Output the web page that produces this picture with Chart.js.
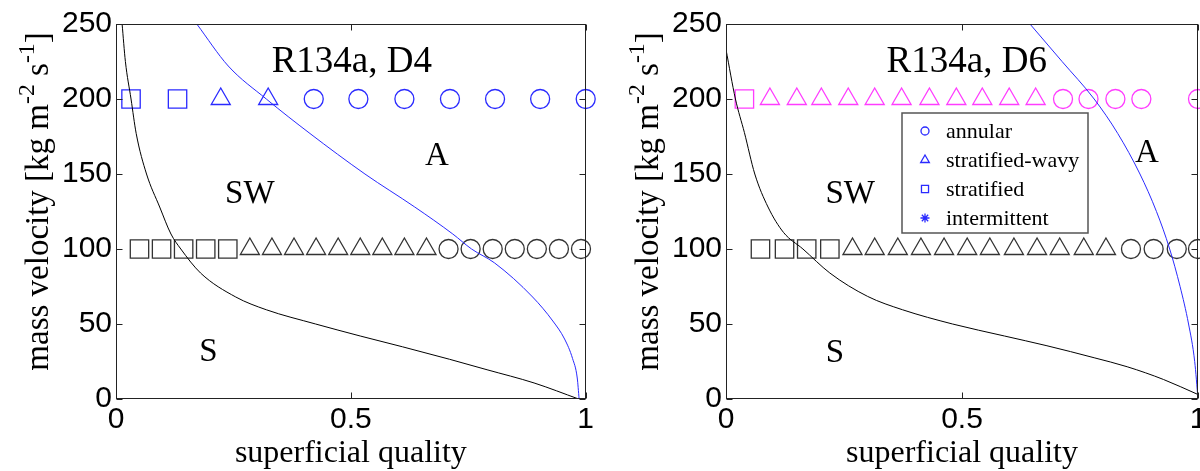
<!DOCTYPE html>
<html>
<head>
<meta charset="utf-8">
<script src="https://cdn.jsdelivr.net/npm/chart.js@4.4.1/dist/chart.umd.min.js"></script>
<style>
  html, body { margin: 0; padding: 0; background: #fff; width: 1200px; height: 471px; overflow: hidden; position: relative; }
  canvas { position: absolute; top: 0; }
  #d4 { left: 0; }
  #d6 { left: 600px; }
</style>
</head>
<body>
<canvas id="d4" width="600" height="471"></canvas>
<canvas id="d6" width="620" height="471"></canvas>
<script>
// axis ticks
const xTicks = [0, 0.5, 1];
const yTicks = [0, 50, 100, 150, 200, 250];
const rowLevels = [200, 100]; // mass velocity of the two test rows

// R134a, D4 - observed patterns
const d4HighSquare = [0.032, 0.131];
const d4HighTriangle = [0.223, 0.324];
const d4HighCircle = [0.421, 0.516, 0.614, 0.711, 0.807, 0.903, 1.0];
const d4LowSquare = [0.05, 0.097, 0.144, 0.191, 0.238];
const d4LowTriangle = [0.285, 0.332, 0.379, 0.426, 0.473, 0.52, 0.567, 0.614, 0.661];
const d4LowCircle = [0.708, 0.755, 0.802, 0.849, 0.896, 0.943, 0.99];

// R134a, D4 - transition curves
const d4StratX = [0.013, 0.02, 0.032, 0.043, 0.065, 0.093, 0.117, 0.138, 0.18, 0.255, 0.32, 0.425, 0.52, 0.61, 0.71, 0.79, 0.89, 0.985];
const d4StratY = [250, 225, 200, 177, 150, 128, 110, 100, 84, 68, 59.5, 50, 42, 34.8, 26.5, 19.5, 10.7, 0];
const d4AnnX = [0.172, 0.239, 0.32, 0.413, 0.53, 0.636, 0.717, 0.757, 0.806, 0.887, 0.93, 0.955, 0.972, 0.982, 0.986];
const d4AnnY = [250, 222, 200, 177, 150, 128, 110, 100, 90.7, 68, 52, 40, 27, 14, 0];

// R134a, D6 - observed patterns
const d6HighSquare = [0.039];
const d6HighTriangle = [0.093, 0.15, 0.202, 0.259, 0.315, 0.372, 0.431, 0.488, 0.543, 0.6, 0.656];
const d6HighCircle = [0.714, 0.768, 0.825, 0.88, 1.0];
const d6LowSquare = [0.073, 0.124, 0.171, 0.22];
const d6LowTriangle = [0.268, 0.315, 0.364, 0.413, 0.462, 0.511, 0.559, 0.61, 0.659, 0.707, 0.758, 0.805];
const d6LowCircle = [0.858, 0.906, 0.955, 1.0];

// R134a, D6 - transition curves
const d6StratX = [0.0, 0.02, 0.039, 0.061, 0.089, 0.122, 0.163, 0.22, 0.30, 0.374, 0.48, 0.59, 0.68, 0.78, 0.85, 0.927, 1.0];
const d6StratY = [233, 200, 177.6, 150, 128, 111, 100, 84, 68.4, 59.5, 50, 42, 35.5, 27.5, 21.5, 13, 3];
const d6AnnX = [0.644, 0.712, 0.78, 0.83, 0.877, 0.912, 0.94, 0.962, 0.98, 0.993, 1.0];
const d6AnnY = [250, 225, 200, 177, 150, 125, 100, 75, 50, 25, 0];

const regionNames = ['SW', 'A', 'S'];
const legendLabels = ['annular', 'stratified-wavy', 'stratified', 'intermittent'];
const legendStyles = ['circle', 'triangle', 'rect', 'star'];

const BLUE = '#2a2aff';
const MAGENTA = '#ff3cff';
const DARK = '#333';
const SERIF = '"Liberation Serif", "Times New Roman", serif';
const SANS = '"Liberation Sans", Arial, sans-serif';

function markers(xs, level, style, color) {
  const r = style === 'circle' ? 9.5 : style === 'triangle' ? 11 : 13;
  return {
    data: xs.map(x => ({ x, y: level })),
    showLine: false,
    pointStyle: style,
    pointRadius: r,
    pointBorderColor: color,
    pointBackgroundColor: 'rgba(0,0,0,0)',
    pointBorderWidth: 1.3,
    clip: false
  };
}

function curve(xs, ys, color) {
  return {
    data: xs.map((x, i) => ({ x, y: ys[i] })),
    showLine: true,
    pointRadius: 0,
    borderColor: color,
    borderWidth: 1,
    cubicInterpolationMode: 'monotone'
  };
}

function drawRich(ctx, parts, size) {
  // parts: [text, isSuperscript]
  let w = 0;
  parts.forEach(p => {
    ctx.font = (p[1] ? size * 0.72 : size) + 'px ' + SERIF;
    w += ctx.measureText(p[0]).width;
  });
  let x = -w / 2;
  parts.forEach(p => {
    ctx.font = (p[1] ? size * 0.72 : size) + 'px ' + SERIF;
    ctx.fillText(p[0], x, p[1] ? -size * 0.42 : 0);
    x += ctx.measureText(p[0]).width;
  });
}

const panelPlugin = {
  id: 'panel',
  afterDatasetsDraw(chart, args, o) {
    const { ctx, chartArea: a, scales: { x, y } } = chart;
    ctx.save();
    // box and inward ticks
    ctx.strokeStyle = '#222';
    ctx.lineWidth = 1;
    const L = Math.round(a.left) + 0.5, R = Math.round(a.right) - 0.5;
    const T = Math.round(a.top) + 0.5, B = Math.round(a.bottom) - 0.5;
    ctx.strokeRect(L, T, R - L, B - T);
    ctx.beginPath();
    xTicks.forEach(v => {
      const px = Math.round(x.getPixelForValue(v)) + 0.5;
      ctx.moveTo(px, B); ctx.lineTo(px, B - 6);
      ctx.moveTo(px, T); ctx.lineTo(px, T + 6);
    });
    yTicks.forEach(v => {
      const py = Math.round(y.getPixelForValue(v)) + 0.5;
      ctx.moveTo(L, py); ctx.lineTo(L + 6, py);
      ctx.moveTo(R, py); ctx.lineTo(R - 6, py);
    });
    ctx.stroke();

    // panel title and region names
    ctx.fillStyle = '#000';
    ctx.textAlign = 'center';
    ctx.textBaseline = 'alphabetic';
    ctx.font = '37px ' + SERIF;
    ctx.fillText(o.title, x.getPixelForValue(o.titleAt[0]), y.getPixelForValue(o.titleAt[1]));
    ctx.font = '33px ' + SERIF;
    regionNames.forEach((name, i) => {
      const p = o.regionsAt[i];
      ctx.fillText(name, x.getPixelForValue(p[0]), y.getPixelForValue(p[1]));
    });

    // axis titles
    const cx = (a.left + a.right) / 2, cy = (a.top + a.bottom) / 2;
    ctx.font = '32px ' + SERIF;
    ctx.fillText('superficial quality', cx, 462);
    ctx.save();
    ctx.translate(o.yTitleX, cy - 10);
    ctx.rotate(-Math.PI / 2);
    ctx.textAlign = 'left';
    drawRich(ctx, [['mass velocity [kg m', false], ['-2', true], [' s', false], ['-1', true], [']', false]], 33);
    ctx.restore();

    // legend box
    if (o.legend) {
      const lx = a.left + 176, ly = a.top + 89, lw = 186, lh = 120;
      ctx.fillStyle = '#fff';
      ctx.fillRect(lx, ly, lw, lh);
      ctx.strokeStyle = '#555';
      ctx.lineWidth = 1.5;
      ctx.strokeRect(lx, ly, lw, lh);
      ctx.font = '22px ' + SERIF;
      ctx.textAlign = 'left';
      ctx.textBaseline = 'middle';
      legendLabels.forEach((lab, i) => {
        const ry = ly + 18 + i * 29;
        ctx.strokeStyle = BLUE;
        ctx.fillStyle = legendStyles[i] === 'star' ? BLUE : 'rgba(0,0,0,0)';
        ctx.lineWidth = 1.3;
        Chart.helpers.drawPoint(ctx, {
          pointStyle: legendStyles[i],
          radius: legendStyles[i] === 'circle' ? 4 : legendStyles[i] === 'star' ? 4.5 : 5,
          borderWidth: legendStyles[i] === 'star' ? 1.8 : 1.3,
          rotation: 0
        }, lx + 23, ry);
        ctx.fillStyle = '#000';
        ctx.fillText(lab, lx + 44, ry + 1);
      });
    }
    ctx.restore();
  }
};

function makeChart(id, datasets, axisLeft, padRight, panelOpts) {
  const tickFont = { family: SANS, size: 30 };
  return new Chart(document.getElementById(id), {
    type: 'scatter',
    data: { datasets },
    options: {
      responsive: false,
      animation: false,
      events: [],
      layout: { padding: { top: 24, right: padRight, left: 0, bottom: 0 } },
      plugins: { legend: { display: false }, tooltip: { enabled: false }, panel: panelOpts },
      scales: {
        x: {
          type: 'linear', min: 0, max: 1,
          grid: { display: false, drawTicks: false, tickLength: 0 },
          border: { display: false },
          afterBuildTicks: s => { s.ticks = xTicks.map(v => ({ value: v })); },
          afterFit: s => { s.height = 72; },
          ticks: { padding: 3, font: tickFont, color: '#000', maxRotation: 0, autoSkip: false, callback: v => String(v) }
        },
        y: {
          type: 'linear', min: 0, max: 250,
          grid: { display: false, drawTicks: false, tickLength: 0 },
          border: { display: false },
          afterBuildTicks: s => { s.ticks = yTicks.map(v => ({ value: v })); },
          afterFit: s => { s.width = axisLeft; },
          ticks: { padding: 4, font: tickFont, color: '#000', autoSkip: false, callback: v => String(v) }
        }
      }
    },
    plugins: [panelPlugin]
  });
}

makeChart('d4', [
  curve(d4StratX, d4StratY, '#000'),
  curve(d4AnnX, d4AnnY, BLUE),
  markers(d4HighSquare, rowLevels[0], 'rect', BLUE),
  markers(d4HighTriangle, rowLevels[0], 'triangle', BLUE),
  markers(d4HighCircle, rowLevels[0], 'circle', BLUE),
  markers(d4LowSquare, rowLevels[1], 'rect', DARK),
  markers(d4LowTriangle, rowLevels[1], 'triangle', DARK),
  markers(d4LowCircle, rowLevels[1], 'circle', DARK)
], 116, 10, {
  title: 'R134a, D4', titleAt: [0.502, 218],
  regionsAt: [[0.285, 130.7], [0.683, 156], [0.197, 25.3]],
  yTitleX: 48, legend: false
});

makeChart('d6', [
  curve(d6StratX, d6StratY, '#000'),
  curve(d6AnnX, d6AnnY, BLUE),
  markers(d6HighSquare, rowLevels[0], 'rect', MAGENTA),
  markers(d6HighTriangle, rowLevels[0], 'triangle', MAGENTA),
  markers(d6HighCircle, rowLevels[0], 'circle', MAGENTA),
  markers(d6LowSquare, rowLevels[1], 'rect', DARK),
  markers(d6LowTriangle, rowLevels[1], 'triangle', DARK),
  markers(d6LowCircle, rowLevels[1], 'circle', DARK)
], 126, 22, {
  title: 'R134a, D6', titleAt: [0.51, 218],
  regionsAt: [[0.263, 130.7], [0.892, 158], [0.231, 24.7]],
  yTitleX: 58, legend: true
});
</script>
</body>
</html>
